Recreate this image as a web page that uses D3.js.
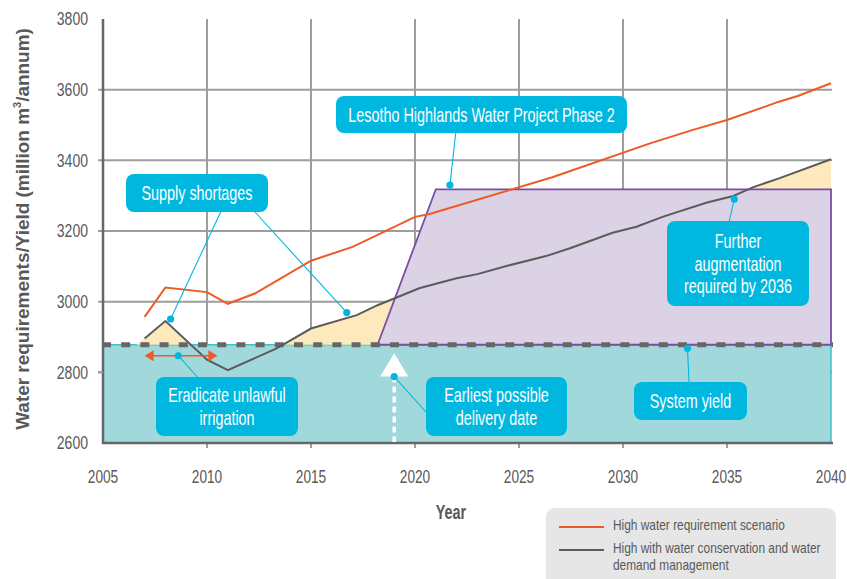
<!DOCTYPE html>
<html><head><meta charset="utf-8">
<script src="https://cdn.jsdelivr.net/npm/d3@7"></script>
<style>
body{margin:0;background:#fff}
svg{display:block}
text{font-family:"Liberation Sans",Arial,sans-serif}
</style>
</head><body><svg id="c" width="847" height="579"></svg>
<script>
// ---------- data ----------
const xTicks = [2005, 2010, 2015, 2020, 2025, 2030, 2035, 2040];
const yTicks = [2600, 2800, 3000, 3200, 3400, 3600, 3800];
const gridYears = [2010, 2015, 2020, 2025, 2030, 2035];
const gridValues = [2800, 3000, 3200, 3400, 3600];

const highYears  = [2007, 2008, 2010, 2011, 2012.3, 2015, 2017, 2020, 2020.7, 2026.6, 2031.3, 2033.4, 2035, 2037.5, 2038.4, 2040];
const highValues = [2957, 3040, 3027, 2994, 3023, 3116, 3155, 3240, 3248, 3352, 3448, 3487, 3514, 3566, 3582, 3618];

const wcYears  = [2007, 2008, 2010, 2011, 2013.35, 2015, 2017.2, 2018.2, 2019, 2020.2, 2022, 2023, 2024.4, 2026.3, 2027.45, 2029.5, 2030.65, 2031.9, 2034, 2035.3, 2036.3, 2037.5, 2040];
const wcValues = [2896, 2945, 2836, 2806, 2868, 2924, 2962, 2990, 3009, 3038, 3066, 3078, 3101, 3129, 3151, 3195, 3212, 3240, 3280, 3299, 3325, 3349, 3403];

const systemYield = 2878;
const shortageStartYear = 2006.6;

const lhwpYears  = [2018.2, 2021, 2040, 2040];
const lhwpValues = [2878, 3318, 3318, 2878];

const deliveryYear = 2019;
const irrigationYears = [2007, 2010.5];
const irrigationValue = 2847;

const legendLabels = ["High water requirement scenario", "High with water conservation and water", "demand management"];

// ---------- setup ----------
const svg = d3.select("#c");
const x = d3.scaleLinear().domain([2005, 2040]).range([103, 831]);
const y = d3.scaleLinear().domain([2600, 3800]).range([443, 19]);

const C = {grid:"#9d9d9d", axis:"#666", txt:"#595959", teal:"#a0d8db", tealLine:"#3fc1c7",
  yellow:"#fde9bb", purple:"#dbd2e6", purpleLine:"#7a4ea3", orange:"#ef5a24", gray:"#5b5b5b",
  cyan:"#00b8df", dash:"#666"};

// condense text horizontally around its anchor x (reference uses a condensed typeface)
function squeeze(sel, f) {
  sel.each(function () {
    const ax = +this.getAttribute("x");
    d3.select(this).attr("transform", `translate(${ax},0) scale(${f},1) translate(${-ax},0)`);
  });
  return sel;
}

// grid
svg.append("g").selectAll("line").data(gridYears).join("line")
  .attr("x1", d => x(d)).attr("x2", d => x(d)).attr("y1", y(3800)).attr("y2", y(2600) + 4)
  .attr("stroke", C.grid).attr("stroke-width", 2);
svg.append("g").selectAll("line").data(gridValues).join("line")
  .attr("x1", x(2005) - 5).attr("x2", x(2040) + 1).attr("y1", d => y(d)).attr("y2", d => y(d))
  .attr("stroke", C.grid).attr("stroke-width", 2);

// teal system yield area
svg.append("rect").attr("x", x(2005)).attr("y", y(systemYield))
  .attr("width", x(2040) - x(2005)).attr("height", y(2600) - y(systemYield)).attr("fill", C.teal);
svg.append("path").attr("d", `M${x(2005)},${y(systemYield)}H${x(2040)}V${y(2600)}`)
  .attr("fill", "none").attr("stroke", C.tealLine).attr("stroke-width", 1.5);

// x-axis ticks (below axis)
svg.append("g").selectAll("line").data(xTicks.slice(1, -1)).join("line")
  .attr("x1", d => x(d)).attr("x2", d => x(d)).attr("y1", y(2600)).attr("y2", y(2600) + 5)
  .attr("stroke", C.grid).attr("stroke-width", 2);

// yellow shortage area
const wc = wcYears.map((yr, i) => [yr, wcValues[i]]);
const shortPts = [[shortageStartYear, systemYield]];
for (let i = 0; i < wc.length; i++) {
  if (i > 0) {
    const [x0, v0] = wc[i - 1], [x1, v1] = wc[i];
    if ((v0 - systemYield) * (v1 - systemYield) < 0) {
      const t = (systemYield - v0) / (v1 - v0);
      shortPts.push([x0 + t * (x1 - x0), systemYield]);
    }
  }
  shortPts.push(wc[i]);
}
svg.append("path").datum(shortPts)
  .attr("d", d3.area().x(d => x(d[0])).y0(y(systemYield)).y1(d => y(Math.max(d[1], systemYield))))
  .attr("fill", C.yellow);

// LHWP phase 2 polygon
const lhwp = lhwpYears.map((yr, i) => [yr, lhwpValues[i]]);
svg.append("path").datum(lhwp)
  .attr("d", d3.line().x(d => x(d[0])).y(d => y(d[1])).curve(d3.curveLinearClosed))
  .attr("fill", C.purple).attr("stroke", C.purpleLine).attr("stroke-width", 1.8).attr("stroke-linejoin", "miter");

// dashed system yield line
svg.append("line").attr("x1", x(2005) - 1).attr("x2", x(2040) + 2)
  .attr("y1", y(systemYield)).attr("y2", y(systemYield))
  .attr("stroke", C.dash).attr("stroke-width", 5).attr("stroke-dasharray", "9,10.2");

// axes
svg.append("line").attr("x1", x(2005)).attr("x2", x(2005)).attr("y1", y(3800)).attr("y2", y(2600) + 1)
  .attr("stroke", C.axis).attr("stroke-width", 2.5);
svg.append("line").attr("x1", x(2005) - 1).attr("x2", x(2040) + 2).attr("y1", y(2600)).attr("y2", y(2600))
  .attr("stroke", C.axis).attr("stroke-width", 2.5);
svg.append("line").attr("x1", x(2005) - 5).attr("x2", x(2005)).attr("y1", y(2800)).attr("y2", y(2800))
  .attr("stroke", C.grid).attr("stroke-width", 2);

// tick labels
squeeze(svg.append("g").selectAll("text").data(yTicks).join("text")
  .attr("x", 88).attr("y", d => y(d)).attr("dy", "0.36em").attr("text-anchor", "end")
  .attr("font-size", 18).attr("fill", C.txt).text(d => d), 0.78);
squeeze(svg.append("g").selectAll("text").data(xTicks).join("text")
  .attr("x", d => x(d)).attr("y", 483).attr("text-anchor", "middle")
  .attr("font-size", 18).attr("fill", C.txt).text(d => d), 0.76);

// axis titles
squeeze(svg.append("text").attr("x", 451).attr("y", 519).attr("text-anchor", "middle")
  .attr("font-size", 20).attr("font-weight", "bold").attr("fill", C.txt).text("Year"), 0.72);
const yt = svg.append("text").attr("text-anchor", "middle")
  .attr("font-size", 19).attr("font-weight", "bold").attr("fill", C.txt);
yt.append("tspan").text("Water requirements/Yield (million m");
yt.append("tspan").attr("font-size", 11).attr("dy", -8).text("3");
yt.append("tspan").attr("dy", 8).text("/annum)");
{
  const L = yt.node().getComputedTextLength();
  yt.attr("transform", `translate(29,229) rotate(-90) scale(${402 / L},1)`);
}

// data lines
const line = d3.line().x(d => x(d[0])).y(d => y(d[1]));
svg.append("path").datum(highYears.map((yr, i) => [yr, highValues[i]]))
  .attr("d", line).attr("fill", "none").attr("stroke", C.orange).attr("stroke-width", 2);
svg.append("path").datum(wc)
  .attr("d", line).attr("fill", "none").attr("stroke", C.gray).attr("stroke-width", 2);

// irrigation double arrow
const ay = y(irrigationValue);
svg.append("line").attr("x1", x(irrigationYears[0]) + 4).attr("x2", x(irrigationYears[1]) - 4)
  .attr("y1", ay).attr("y2", ay).attr("stroke", C.orange).attr("stroke-width", 1.5);
svg.append("path").attr("d", `M${x(irrigationYears[0])},${ay}l9,-5.5v11z`).attr("fill", C.orange);
svg.append("path").attr("d", `M${x(irrigationYears[1])},${ay}l-9,-5.5v11z`).attr("fill", C.orange);

// delivery date arrow
const dx = x(deliveryYear);
svg.append("path").attr("d", `M${dx},${y(2854)}L${dx + 14},${y(2788)}H${dx - 14}Z`).attr("fill", "#fff");
svg.append("line").attr("x1", dx).attr("x2", dx).attr("y1", y(2788)).attr("y2", y(2600) - 1)
  .attr("stroke", "#fff").attr("stroke-width", 3.5).attr("stroke-dasharray", "6,4");

// ---------- annotations ----------
const notes = [
  {box:[126,174,142,38], lines:["Supply shortages"], leaders:[[220.7,212,2008.25,2951],[255,212,2016.72,2969]]},
  {box:[336,96,291,37], lines:["Lesotho Highlands Water Project Phase 2"], leaders:[[455.7,133,2021.68,3330]]},
  {box:[667,221,142,85], lines:["Further","augmentation","required by 2036"], leaders:[[729.3,221,2035.35,3290]]},
  {box:[156,377,142,59], lines:["Eradicate unlawful","irrigation"], leaders:[[197.3,377,2008.62,2847]]},
  {box:[426,377,141,59], lines:["Earliest possible","delivery date"], leaders:[[426,412,2019,2788]]},
  {box:[634,382,113,38], lines:["System yield"], leaders:[[689,382,2033.1,2868]]}
];
notes.forEach(n => {
  const g = svg.append("g");
  n.leaders.forEach(l => {
    g.append("line").attr("x1", l[0]).attr("y1", l[1]).attr("x2", x(l[2])).attr("y2", y(l[3]))
      .attr("stroke", C.cyan).attr("stroke-width", 1.1);
    g.append("circle").attr("cx", x(l[2])).attr("cy", y(l[3])).attr("r", 3.6).attr("fill", C.cyan);
  });
  const [bx, by, bw, bh] = n.box;
  g.append("rect").attr("x", bx).attr("y", by).attr("width", bw).attr("height", bh).attr("rx", 8)
    .attr("fill", C.cyan);
  const lh = 22.5, cy = by + bh / 2 - (n.lines.length - 1) * lh / 2;
  n.lines.forEach((t, i) => squeeze(g.append("text").attr("x", bx + bw / 2).attr("y", cy + i * lh).attr("dy", "0.36em")
    .attr("text-anchor", "middle").attr("font-size", 20).attr("fill", "#fff").text(t), 0.72));
});

// ---------- legend ----------
const lg = svg.append("g");
lg.append("path").attr("d", "M546,579V518Q546,508 556,508H826Q836,508 836,518V579Z").attr("fill", "#e6e6e7");
lg.append("line").attr("x1", 559).attr("x2", 604).attr("y1", 527).attr("y2", 527).attr("stroke", C.orange).attr("stroke-width", 2);
lg.append("line").attr("x1", 559).attr("x2", 604).attr("y1", 550).attr("y2", 550).attr("stroke", C.gray).attr("stroke-width", 2);
[525, 548, 565].forEach((yy, i) => squeeze(lg.append("text").attr("x", 613).attr("y", yy).attr("dy", "0.36em")
  .attr("font-size", 14).attr("fill", C.txt).text(legendLabels[i]), 0.85));
</script>
</body></html>
